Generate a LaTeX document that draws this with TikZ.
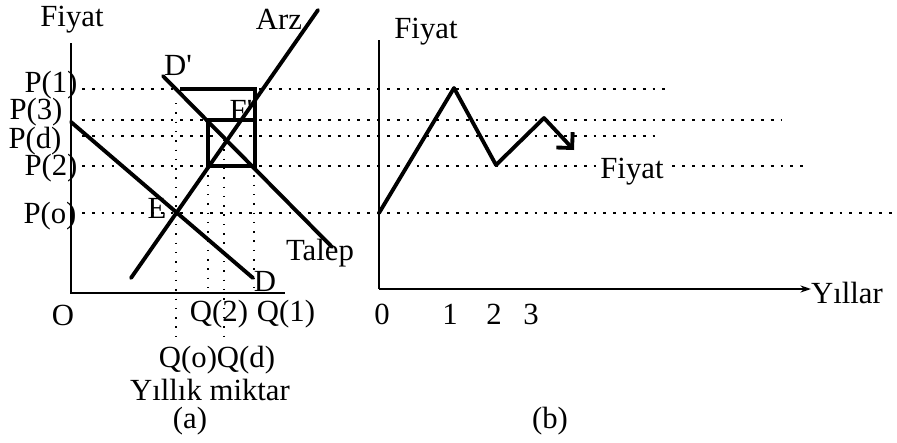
\documentclass[tikz,border=0pt]{standalone}
\usepackage{fontspec}
\setmainfont{Liberation Serif}
\usetikzlibrary{arrows.meta, positioning}
\tikzset{
  axis/.style={line width=1.6pt},
  curve/.style={line width=2.2pt, line cap=round, line join=round},
  web/.style={line width=1.8pt, line join=miter},
  guide/.style={line width=0.6pt, dash pattern=on 1.6pt off 4pt},
  drop/.style={line width=0.8pt, dash pattern=on 0.8pt off 4.5pt},
  lbl/.style={inner sep=0pt, font=\fontsize{17.5}{20}\selectfont},
}

\begin{document}
\begin{tikzpicture}[x=0.02cm, y=-0.02cm]
    \useasboundingbox (0,0) rectangle (897,443);
    % Price guides running across both panels
    \foreach \n/\y/\e in {1/89/670, 3/120/782, d/136/658, 2/166/807, o/213/895} {
      \coordinate (p\n a) at (82,\y);
      \coordinate (p\n b) at (\e,\y);
      \draw[guide] (p\n a) -- (p\n b);
    }
    % Panel (a): axes
    \coordinate (ya) at (71,43);
    \coordinate (oa) at (71,293);
    \coordinate (xa) at (285,293);
    \draw[axis] (ya) -- (oa) -- (xa);
    % Quantity drops
    \coordinate (qo1) at (176,103);  \coordinate (qo2) at (176,337);
    \coordinate (q21) at (208,166);  \coordinate (q22) at (208,290);
    \coordinate (qd1) at (224,140);  \coordinate (qd2) at (224,337);
    \coordinate (q11) at (254,166);  \coordinate (q12) at (254,289);
    \draw[drop] (qo1) -- (qo2);
    \draw[drop] (q21) -- (q22);
    \draw[drop] (qd1) -- (qd2);
    \draw[drop] (q11) -- (q12);
    % Supply and demand
    \coordinate (s1) at (131,278);  \coordinate (s2) at (318,10);
    \coordinate (d1) at (71,122);   \coordinate (d2) at (253,278);
    \coordinate (e1) at (163,76);   \coordinate (e2) at (332,247);
    \draw[curve] (s1) -- (s2);
    \draw[curve] (d1) -- (d2);
    \draw[curve] (e1) -- (e2);
    % Cobweb
    \coordinate (c1) at (180,89);
    \coordinate (c2) at (255,89);
    \coordinate (c3) at (255,166);
    \coordinate (c4) at (208,166);
    \coordinate (c5) at (208,120);
    \coordinate (c6) at (253,120);
    \draw[web] (c1) -- (c2) -- (c3) -- (c4) -- (c5) -- (c6);
    % Labels (a)
    \node[lbl] (fa) at (72,20) {Fiyat};
    \node[lbl] (arz) at (279,19) {Arz};
    \node[lbl] (lp1) at (51,85) {P(1)};
    \node[lbl] (lp3) at (36,112) {P(3)};
    \node[lbl] (lpd) at (35,141) {P(d)};
    \node[lbl] (lp2) at (51,168) {P(2)};
    \node[lbl] (lpo) at (50,216) {P(o)};
    \node[lbl] (ldp) at (178,65) {D\textquotesingle};
    \node[lbl] (lfp) at (241,110) {F\textquotesingle};
    \node[lbl] (le) at (157,208) {E};
    \node[lbl] (talep) at (320,253) {Talep};
    \node[lbl] (ld) at (265,281) {D};
    \node[lbl] (lo) at (63,315) {O};
    \node[lbl] (lq2) at (219,314) {Q(2)};
    \node[lbl] (lq1) at (286,314) {Q(1)};
    \node[lbl] (lqod) at (217,360) {Q(o)Q(d)};
    \node[lbl] (miktar) at (210,390) {Yıllık miktar};
    \node[lbl] (capa) at (190,421) {(a)};
    % Panel (b): axes
    \coordinate (yb) at (379,40);
    \coordinate (ob) at (379,289);
    \coordinate (xb) at (811,289);
    \draw[axis] (yb) -- (ob);
    \draw[axis, -{Stealth[length=6pt, width=4pt]}] (ob) -- (xb);
    % Price path
    \coordinate (t0) at (379,213);
    \coordinate (t1) at (454,88);
    \coordinate (t2) at (496,165);
    \coordinate (t3) at (544,118);
    \coordinate (t4) at (574,150);
    \draw[curve, -{Straight Barb[angle=90:9pt]}] (t0) -- (t1) -- (t2) -- (t3) -- (t4);
    % Labels (b)
    \node[lbl] (fb) at (426,32) {Fiyat};
    \node[lbl, fill=white, inner xsep=2pt] (fpath) at (632,172) {Fiyat};
    \node[lbl] (yillar) at (847,293) {Yıllar};
    \node[lbl] (n0) at (382,314) {0};
    \node[lbl] (n1) at (450,314) {1};
    \node[lbl] (n2) at (494,314) {2};
    \node[lbl] (n3) at (531,314) {3};
    \node[lbl] (capb) at (550,421) {(b)};
\end{tikzpicture}
\end{document}
